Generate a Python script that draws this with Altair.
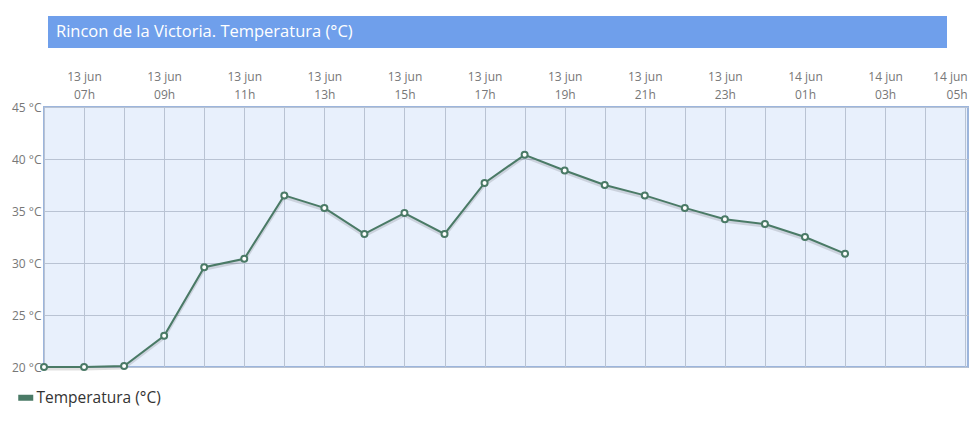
import altair as alt
import pandas as pd

# ---- data ----
title_text = "Rincon de la Victoria. Temperatura (°C)"
series_name = "Temperatura (°C)"
tick_days = ["13 jun"] * 18 + ["14 jun"] * 6
tick_hours = ["06h", "07h", "08h", "09h", "10h", "11h", "12h", "13h", "14h", "15h",
              "16h", "17h", "18h", "19h", "20h", "21h", "22h", "23h",
              "00h", "01h", "02h", "03h", "04h", "05h"]
temps = [20.0, 20.0, 20.1, 23.0, 29.6, 30.4, 36.5, 35.3, 32.8, 34.8, 32.8,
         37.7, 40.4, 38.9, 37.5, 36.5, 35.3, 34.2, 33.75, 32.5, 30.9]
y_ticks = [20, 25, 30, 35, 40, 45]

df = pd.DataFrame({
    "idx": list(range(len(temps))),
    "hour": tick_hours[:len(temps)],
    "temp": temps,
    "series": [series_name] * len(temps),
})

GREEN = "#4a7a66"
GRID = "#b9c3d3"
LABEL = "#777777"

label_arr = "[" + ",".join(
    "['%s','%s']" % (d, h) for d, h in zip(tick_days, tick_hours)) + "]"

x_enc = alt.X(
    "idx:Q",
    scale=alt.Scale(domain=[0, 23.07], nice=False, zero=False),
    axis=alt.Axis(
        orient="top", values=list(range(24)), title=None, domain=False,
        ticks=False, grid=True, gridColor=GRID, gridWidth=1,
        labelExpr="datum.value % 2 == 1 ? " + label_arr + "[datum.value] : ''",
        labelFont="Open Sans", labelFontSize=12, labelColor=LABEL,
        labelLineHeight=18, labelPadding=24, labelOverlap=False,
        labelFlush=5, labelFlushOffset=2,
    ),
)
y_enc = alt.Y(
    "temp:Q",
    scale=alt.Scale(domain=[20, 45], nice=False, zero=False),
    axis=alt.Axis(
        values=y_ticks, title=None, domain=False, ticks=False, grid=True,
        gridColor=GRID, gridWidth=1, labelExpr="datum.value + ' °C'",
        labelFont="Open Sans", labelFontSize=12, labelColor=LABEL,
        labelPadding=3,
    ),
)

base = alt.Chart(df)

shadow = base.mark_line(color="#000000", opacity=0.12, strokeWidth=3, yOffset=2).encode(
    x=x_enc, y=y_enc)

line = base.mark_line(strokeWidth=2).encode(
    x=x_enc, y=y_enc,
    color=alt.Color(
        "series:N",
        scale=alt.Scale(range=[GREEN]),
        legend=alt.Legend(
            orient="none", legendX=-26, legendY=283, title=None,
            symbolType="M-1,-0.4H1V0.4H-1Z", symbolSize=225,
            symbolFillColor=GREEN, symbolStrokeColor=GREEN, symbolStrokeWidth=0,
            labelFont="Open Sans", labelFontSize=15.5, labelColor="#333333",
            labelOffset=3,
        ),
    ),
)

points = base.mark_point(filled=True, fill="white", stroke=GREEN, strokeWidth=2,
                         size=36, opacity=1).encode(x=x_enc, y=y_enc)

tdf = pd.DataFrame({"t": [title_text]})
title_bar = alt.Chart(tdf).mark_rect(color="#6f9feb").encode(
    x=alt.value(4), x2=alt.value(903), y=alt.value(-91), y2=alt.value(-59))
title_lbl = alt.Chart(tdf).mark_text(
    align="left", baseline="middle", font="Open Sans", fontSize=16.5,
    color="white").encode(x=alt.value(12), y=alt.value(-75), text="t:N")

chart = alt.layer(title_bar, title_lbl, shadow, line, points).properties(
    width=924, height=260,
    background="white",
    autosize=alt.AutoSizeParams(type="none"),
    padding={"left": 36, "top": 99, "right": 1, "bottom": 50},
).configure_view(
    fill="#e8f0fc", stroke="#9cb5dc", strokeWidth=2
)

chart.save("out.html", embed_options={"renderer": "svg", "actions": False})
